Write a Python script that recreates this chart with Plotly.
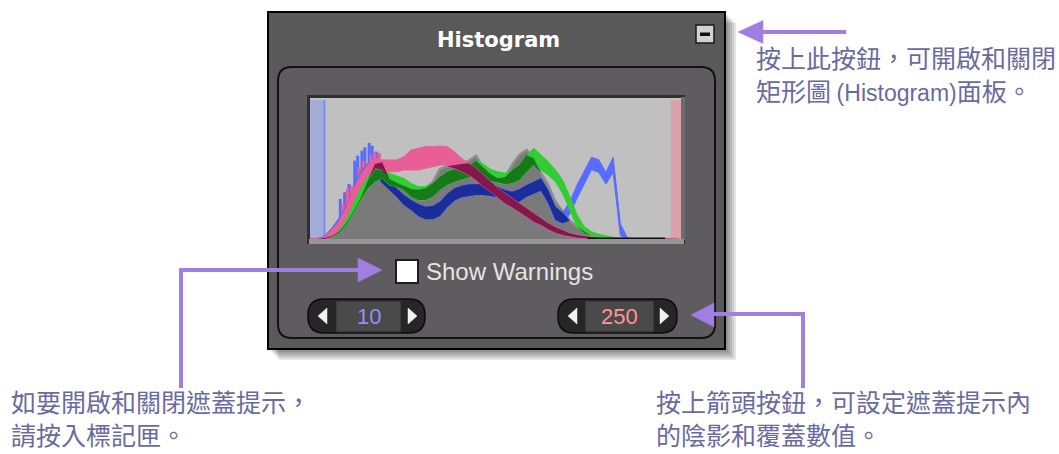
import plotly.graph_objects as go

W, H = 1059, 454

# ---------------- data ----------------
levels = [0, 5, 10, 15, 20, 25, 30, 35, 40, 45, 50, 55, 60, 65, 70, 75, 80, 85, 90, 95,
          100, 105, 110, 115, 120, 125, 130, 135, 140, 145, 150, 155, 160, 165, 170, 175,
          180, 185, 190, 195, 200, 205, 210, 215, 220, 225, 230, 235, 240, 245, 250, 255]

gray_counts = [0, 0, 3, 9, 22, 47, 82, 122, 175, 225, 230, 180, 168, 158, 150, 148, 152, 170, 210, 218,
               222, 225, 235, 250, 215, 195, 182, 185, 222, 252, 267, 242, 198, 162, 112, 82,
               55, 37, 22, 9, 2, 0, 0, 0, 0, 0, 0, 0, 0, 0, 0, 0]

red_low = [0, 0, 0, 7, 27, 62, 112, 157, 192, 212, 207, 202, 202, 207, 207, 207, 212, 217, 222, 222,
           212, 202, 192, 177, 157, 142, 125, 107, 95, 82, 67, 52, 42, 29, 19, 12,
           7, 4, 2, 1, 0, 0, 0, 0, 0, 0, 0, 0, 0, 0, 0, 0]
red_high = [0, 0, 6, 27, 52, 92, 147, 192, 222, 242, 237, 237, 237, 247, 267, 272, 277, 277, 279, 277,
            262, 242, 227, 212, 192, 172, 154, 137, 122, 107, 92, 77, 62, 47, 35, 25,
            17, 12, 9, 6, 4, 3, 2, 2, 2, 0, 0, 0, 0, 0, 0, 0]

green_low = [0, 0, 0, 7, 17, 42, 77, 117, 152, 172, 182, 162, 157, 147, 127, 117, 117, 127, 147, 162,
             172, 179, 185, 197, 189, 175, 169, 165, 167, 177, 202, 222, 207, 192, 172, 137,
             87, 37, 17, 10, 5, 2, 1, 0, 0, 0, 0, 0, 0, 0, 0, 0]
green_high = [0, 0, 6, 22, 42, 72, 112, 152, 187, 207, 212, 197, 189, 182, 167, 157, 157, 167, 187, 202,
              209, 212, 219, 235, 225, 209, 202, 197, 207, 222, 252, 272, 252, 232, 207, 177,
              127, 72, 37, 22, 14, 9, 5, 3, 2, 0, 0, 0, 0, 0, 0, 0]

blue_low = [0, 0, 0, 12, 37, 67, 117, 167, 197, 197, 167, 147, 127, 102, 87, 69, 59, 59, 69, 95,
            115, 125, 129, 132, 132, 129, 125, 112, 107, 112, 127, 137, 145, 107, 57, 47,
            75, 122, 167, 208, 200, 165, 200, 10, 0, 0, 0, 0, 0, 0, 0, 0]
blue_high = [0, 0, 9, 32, 62, 97, 147, 202, 227, 222, 197, 172, 152, 132, 117, 105, 97, 99, 112, 135,
             152, 160, 164, 165, 164, 162, 157, 147, 142, 149, 162, 172, 182, 147, 97, 79,
             112, 162, 202, 245, 238, 200, 245, 45, 3, 0, 0, 0, 0, 0, 0, 0]

blue_spike_levels = [21, 24, 27, 31, 33, 36, 38, 41, 43, 46]
blue_spike_counts = [120, 140, 165, 235, 250, 265, 275, 288, 280, 262]
red_spike_levels = [23, 26, 29, 34, 37, 42, 45, 48]
red_spike_counts = [105, 150, 160, 215, 235, 252, 262, 258]

clip_levels = [192, 246]
clip_counts = [2, 2]

low_warning = 10
high_warning = 250
level_max = 257
count_max = 417

title_text = "Histogram"
checkbox_label = "Show Warnings"
note_top = ["按上此按鈕，可開啟和關閉",
            "矩形圖 <span style=\"font-family:Liberation Sans;font-size:23px\">(Histogram)</span>面板。"]
note_left = ["如要開啟和關閉遮蓋提示，", "請按入標記匣。"]
note_right = ["按上箭頭按鈕，可設定遮蓋提示內", "的陰影和覆蓋數值。"]

# ---------------- helpers ----------------
def px(x):
    return x / W


def py(y):
    return 1 - y / H


fig = go.Figure()


def rect(x0, y0, x1, y1, fill, line=None, lw=0):
    fig.add_shape(type="rect", xref="paper", yref="paper",
                  x0=px(x0), y0=py(y1), x1=px(x1), y1=py(y0),
                  fillcolor=fill, line=dict(color=line or fill, width=lw), layer="below")


def pth(points, closed=True):
    s = ""
    for cmd, coords in points:
        s += cmd + " " + " ".join(f"{px(a):.5f},{py(b):.5f}" for a, b in coords) + " "
    if closed:
        s += "Z"
    return s


def rrect(x0, y0, x1, y1, r, fill, line=None, lw=0):
    p = pth([("M", [(x0 + r, y0)]), ("L", [(x1 - r, y0)]), ("Q", [(x1, y0), (x1, y0 + r)]),
             ("L", [(x1, y1 - r)]), ("Q", [(x1, y1), (x1 - r, y1)]), ("L", [(x0 + r, y1)]),
             ("Q", [(x0, y1), (x0, y1 - r)]), ("L", [(x0, y0 + r)]), ("Q", [(x0, y0), (x0 + r, y0)])])
    fig.add_shape(type="path", xref="paper", yref="paper", path=p, fillcolor=fill,
                  line=dict(color=line or fill, width=lw), layer="below")


def tri(a, b, c, fill):
    p = pth([("M", [a]), ("L", [b]), ("L", [c])])
    fig.add_shape(type="path", xref="paper", yref="paper", path=p, fillcolor=fill,
                  line=dict(color=fill, width=0.5), layer="below")


def seg(x0, y0, x1, y1, color, lw):
    fig.add_shape(type="line", xref="paper", yref="paper", x0=px(x0), y0=py(y0), x1=px(x1), y1=py(y1),
                  line=dict(color=color, width=lw), layer="below")


def text(x, y, s, size, color, family, anchor="left", yanchor="middle"):
    fig.add_annotation(xref="paper", yref="paper", x=px(x), y=py(y), text=s, showarrow=False,
                       xanchor=anchor, yanchor=yanchor, align="left",
                       font=dict(size=size, color=color, family=family))


# ---------------- panel ----------------
for k in [11, 9, 7, 5, 3]:
    rect(268 + k, 12 + k, 725 + k, 349 + k, "rgba(0,0,0,0.10)")
rect(268, 12, 725, 349, "#595959", "#000000", 2)
rrect(278, 67, 715, 338, 14, "#5e5c5e", "#111111", 2)

# histogram frame
rect(307, 95, 685, 244, "#303030")
rect(681, 97, 685, 240, "#6c6c6c")
rect(309, 239, 684, 244, "#969696")
rect(310, 98, 681, 239, "rgb(192,192,192)")

# minimise button
rect(696, 25, 714, 43, "#d2d2d2", "#1a1a1a", 1.5)
rect(700, 32.5, 710, 36, "#111111")

# checkbox
rect(396, 260, 418, 283, "#ffffff", "#1e1e1e", 2)

# spinners
for (x0, x1, fx0, fx1) in [(308, 425, 336, 401), (558, 677, 585, 654)]:
    rrect(x0, 299, x1, 333, 16, "#262626", "#0c0c0c", 1.5)
    rect(fx0, 301, fx1, 332, "#4a4a4a", "#2a2a2a", 1)
    tri((x0 + 10, 316), (x0 + 19, 308), (x0 + 19, 324), "#f2f2f2")
    tri((x1 - 8, 316), (x1 - 17, 308), (x1 - 17, 324), "#f2f2f2")

# purple callout arrows
ARW = "#a07ee2"
seg(760, 32, 846, 32, ARW, 4)
tri((738, 32), (763, 20.5), (763, 43.5), ARW)
seg(181, 388, 181, 268, ARW, 4)
seg(179, 270, 362, 270, ARW, 4)
tri((382, 270), (358, 258), (358, 282), ARW)
seg(803, 388, 803, 312, ARW, 4)
seg(805, 314, 712, 314, ARW, 4)
tri((691, 315), (714, 303), (714, 327), ARW)

# ---------------- histogram traces ----------------
fig.add_shape(type="rect", xref="x", yref="y", x0=0, x1=low_warning, y0=0, y1=count_max,
              fillcolor="rgb(164,172,216)", line=dict(width=0), layer="below")
fig.add_shape(type="line", xref="x", yref="y", x0=low_warning, x1=low_warning, y0=0, y1=count_max,
              line=dict(color="rgb(120,140,250)", width=2), layer="below")
fig.add_shape(type="rect", xref="x", yref="y", x0=high_warning, x1=level_max, y0=0, y1=count_max,
              fillcolor="rgb(218,160,172)", line=dict(width=0), layer="below")


def spikes(xs, tops, color):
    sx, sy = [], []
    for a, b in zip(xs, tops):
        sx += [a, a, None]
        sy += [0, b, None]
    fig.add_trace(go.Scatter(x=sx, y=sy, mode="lines", line=dict(color=color, width=3),
                             hoverinfo="skip", showlegend=False))


BRIGHT = {"red": "rgb(234,94,150)", "green": "rgb(50,205,50)", "blue": "rgb(88,108,255)"}
DARK = {"red": "rgb(122,18,72)", "green": "rgb(20,115,25)", "blue": "rgb(22,40,145)"}

spikes(blue_spike_levels, blue_spike_counts, BRIGHT["blue"])
spikes(red_spike_levels, red_spike_counts, BRIGHT["red"])

fig.add_trace(go.Scatter(x=levels, y=gray_counts, mode="lines", fill="tozeroy",
                         fillcolor="rgb(122,122,122)", line=dict(color="rgb(142,142,142)", width=2.5),
                         hoverinfo="skip", showlegend=False))


def band(xs, lo, hi, color, opacity=1.0, lw=0):
    fig.add_trace(go.Scatter(x=list(xs) + list(xs[::-1]), y=list(hi) + list(lo[::-1]),
                             mode="lines", fill="toself", fillcolor=color,
                             line=dict(width=lw, color=color),
                             opacity=opacity, hoverinfo="skip", showlegend=False))


for name, lo, hi in [("blue", blue_low, blue_high), ("green", green_low, green_high),
                     ("red", red_low, red_high)]:
    band(levels, lo, hi, BRIGHT[name], 1.0, 1)
    dhi = [min(h, g) for h, g in zip(hi, gray_counts)]
    dlo = [min(l, d) for l, d in zip(lo, dhi)]
    band(levels, dlo, dhi, DARK[name], 0.92)

fig.add_trace(go.Scatter(x=clip_levels, y=clip_counts, mode="lines",
                         line=dict(color="#111111", width=1.5), hoverinfo="skip", showlegend=False))

# ---------------- texts ----------------
text(498, 40, f"<b>{title_text}</b>", 21, "#ffffff", "DejaVu Sans", "center")
text(424, 271, checkbox_label, 24, "#e4e4e4", "Liberation Sans")
text(368.5, 316, str(low_warning), 22, "#9090ff", "Liberation Sans", "center")
text(619.5, 316, str(high_warning), 22, "#ff9494", "Liberation Sans", "center")

NOTE = "#6a6aa3"
CJK = "Noto Sans CJK TC"
text(754, 73.5, "<br>".join(note_top), 25, NOTE, CJK)
text(9, 454, "<br>".join(note_left), 25, NOTE, CJK, yanchor="bottom")
text(654, 454, "<br>".join(note_right), 25, NOTE, CJK, yanchor="bottom")

fig.update_layout(
    width=W, height=H, margin=dict(l=0, r=0, t=0, b=0),
    paper_bgcolor="#ffffff", plot_bgcolor="rgba(0,0,0,0)", showlegend=False,
    xaxis=dict(domain=[px(310), px(681)], range=[0, level_max], visible=False, fixedrange=True),
    yaxis=dict(domain=[py(239), py(100)], range=[0, count_max], visible=False, fixedrange=True),
)

fig.write_html("out.html", config={"displayModeBar": False},
               post_script="document.body.style.margin='0';document.body.style.overflow='hidden';")
